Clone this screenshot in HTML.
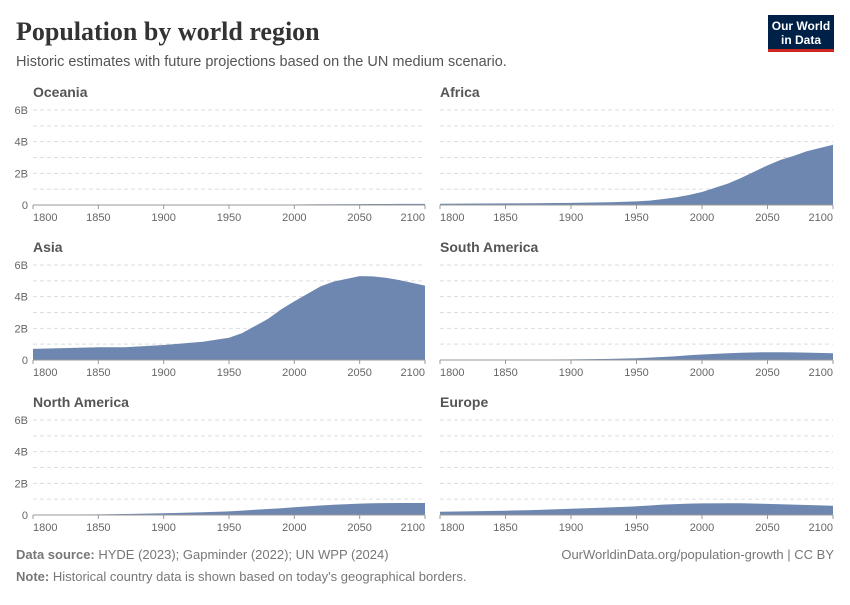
<!DOCTYPE html>
<html><head><meta charset="utf-8">
<style>
body{margin:0;background:#fff;width:850px;height:600px;overflow:hidden;font-family:"Liberation Sans",sans-serif}
svg text{font-family:"Liberation Sans",sans-serif}
</style></head>
<body>
<svg id="c" width="850" height="600" xmlns="http://www.w3.org/2000/svg">
<text x="16" y="40" font-family="Liberation Serif" font-weight="bold" font-size="26" fill="#333" style="font-family:'Liberation Serif',serif">Population by world region</text>
<text x="16" y="66" font-size="14.5" fill="#555">Historic estimates with future projections based on the UN medium scenario.</text>
<g>
<rect x="768" y="15" width="66" height="35" fill="#002147"/>
<rect x="768" y="49" width="66" height="3" fill="#ce261e"/>
<text x="801" y="30" font-size="12" font-weight="bold" fill="#fff" text-anchor="middle">Our World</text>
<text x="801" y="44" font-size="12" font-weight="bold" fill="#fff" text-anchor="middle">in Data</text>
</g>
<text x="16" y="559" font-size="13" fill="#777"><tspan font-weight="bold">Data source:</tspan> HYDE (2023); Gapminder (2022); UN WPP (2024)</text>
<text x="834" y="559" font-size="13" fill="#777" text-anchor="end">OurWorldinData.org/population-growth | CC BY</text>
<text x="16" y="581" font-size="13" fill="#777"><tspan font-weight="bold">Note:</tspan> Historical country data is shown based on today's geographical borders.</text>
<g id="panels"></g>
</svg>
<script>
const regions = ["Oceania","Africa","Asia","South America","North America","Europe"];
const years = [1800,1850,1870,1900,1930,1950,1960,1970,1980,1990,2000,2020,2030,2050,2060,2070,2080,2100];
const oceania = [0.002,0.003,0.004,0.006,0.01,0.013,0.016,0.019,0.023,0.027,0.031,0.043,0.048,0.058,0.062,0.065,0.067,0.069];
const africa = [0.08,0.1,0.11,0.13,0.17,0.23,0.28,0.37,0.48,0.63,0.82,1.36,1.71,2.5,2.85,3.1,3.4,3.8];
const asia = [0.7,0.8,0.8,0.95,1.15,1.4,1.7,2.15,2.6,3.2,3.7,4.65,4.95,5.3,5.28,5.2,5.05,4.7];
const southAmerica = [0.01,0.02,0.025,0.04,0.07,0.11,0.15,0.19,0.24,0.3,0.35,0.43,0.46,0.49,0.49,0.48,0.47,0.43];
const northAmerica = [0.02,0.04,0.06,0.11,0.17,0.23,0.28,0.33,0.38,0.43,0.49,0.6,0.65,0.72,0.74,0.75,0.76,0.76];
const europe = [0.2,0.27,0.31,0.4,0.48,0.55,0.6,0.66,0.69,0.72,0.73,0.745,0.74,0.7,0.68,0.66,0.63,0.59];
const seriesList = [oceania,africa,asia,southAmerica,northAmerica,europe];
const yTicks = [0,2,4,6];
const yTickLabels = ["0","2B","4B","6B"];
const xTicks = [1800,1850,1900,1950,2000,2050,2100];
const NS="http://www.w3.org/2000/svg";
const root=document.getElementById('panels');
function mk(tag,attrs,parent){const e=document.createElementNS(NS,tag);for(const k in attrs)e.setAttribute(k,attrs[k]);parent.appendChild(e);return e;}
regions.forEach((name,i)=>{
  const col=i%2,row=Math.floor(i/2);
  const left=col?440:33,right=col?833:425,showY=col===0;
  const top=110+row*155,bottom=205+row*155;
  const xs=v=>left+(v-1800)/(2100-1800)*(right-left);
  const ys=v=>bottom-v/6*(bottom-top);
  const g=mk('g',{},root);
  
  
  const t=mk('text',{x:col?440:33,y:top-13,'font-size':14,'font-weight':'bold',fill:'#555'},g);
  t.textContent=name;
  
  
  for(let v=1;v<=6;v++){
    const l=mk('line',{x1:left,x2:right,y1:ys(v),y2:ys(v),stroke:'#ddd','stroke-dasharray':'4,3'},g);
    
    
  }
  if(showY) yTicks.forEach((v,k)=>{
    const tx=mk('text',{x:28,y:ys(v)+4,'font-size':11,fill:'#666','text-anchor':'end'},g);
    tx.textContent=yTickLabels[k];
    
    
  });
  let d='M'+xs(years[0])+','+ys(0);
  years.forEach((y,k)=>{d+=' L'+xs(y).toFixed(1)+','+ys(seriesList[i][k]).toFixed(1);});
  d+=' L'+xs(years[years.length-1])+','+ys(0)+' Z';
  const a=mk('path',{d:d,fill:'#6d87b0'},g);
  
  
  const ax=mk('line',{x1:left,x2:right,y1:bottom,y2:bottom,stroke:'#999'},g);
  
  
  xTicks.forEach((v,k)=>{
    mk('line',{x1:xs(v),x2:xs(v),y1:bottom,y2:bottom+4,stroke:'#999'},g);
    const anchor=k===0?'start':(k===xTicks.length-1?'end':'middle');
    const tx=mk('text',{x:xs(v),y:bottom+16,'font-size':11,fill:'#666','text-anchor':anchor},g);
    tx.textContent=v;
    
    
  });
});
</script>
</body></html>
